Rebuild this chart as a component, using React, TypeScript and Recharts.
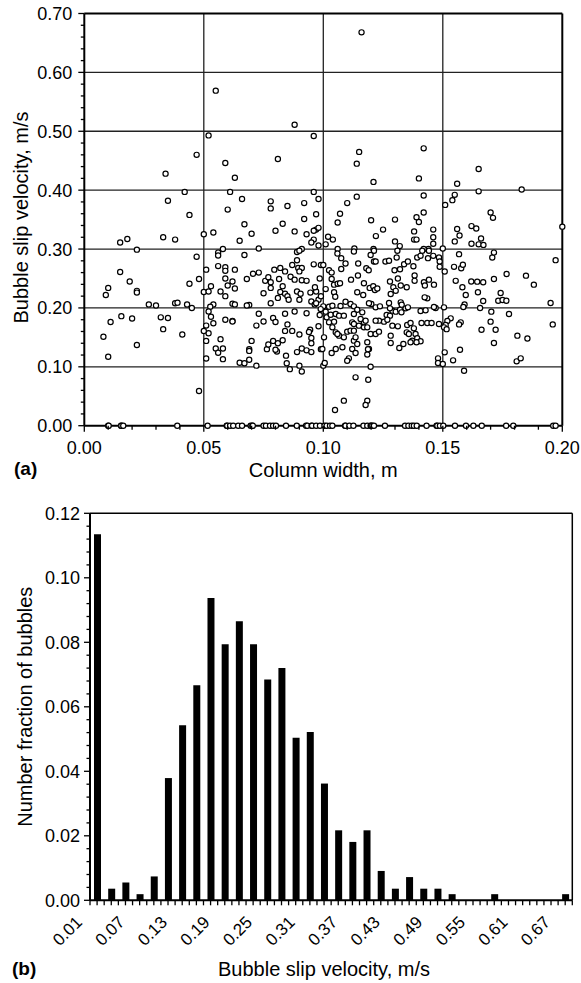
import React from "react";
import {
  ScatterChart,
  Scatter,
  BarChart,
  Bar,
  XAxis,
  YAxis,
  CartesianGrid,
  ReferenceLine,
} from "recharts";

const FONT = '"Liberation Sans", Arial, Helvetica, sans-serif';

// ---------- (a) slip velocity vs column width ----------
// bubbles that sit on the zero line (only the width is read)
const zeroSlipWidths = [
  0.01, 0.0102, 0.0154, 0.0155, 0.0163, 0.0389, 0.0516, 0.0596, 0.0598, 0.061, 0.0623, 0.0644,
  0.066, 0.0696, 0.0703, 0.0705, 0.075, 0.076, 0.0777, 0.079, 0.0802, 0.0844, 0.0889, 0.0928,
  0.0933, 0.0951, 0.0953, 0.097, 0.0986, 0.1005, 0.1014, 0.1028, 0.1038, 0.1091, 0.1093, 0.1109,
  0.1126, 0.1168, 0.1184, 0.1198, 0.12, 0.1205, 0.1212, 0.1258, 0.1342, 0.1356, 0.137, 0.1379,
  0.1391, 0.1432, 0.1474, 0.1477, 0.1488, 0.1502, 0.1551, 0.1597, 0.1628, 0.1663, 0.1765, 0.1795,
  0.1962, 0.1972,
];

// [column width, slip velocity] - points above 0.30 m/s
const upperPoints = [
  [0.055, 0.569], [0.052, 0.493], [0.088, 0.511], [0.047, 0.46], [0.034, 0.428], [0.059, 0.446],
  [0.081, 0.453], [0.063, 0.421], [0.035, 0.382], [0.042, 0.397], [0.061, 0.397], [0.066, 0.385],
  [0.044, 0.358], [0.06, 0.367], [0.078, 0.381], [0.078, 0.369], [0.085, 0.373], [0.067, 0.342],
  [0.083, 0.343], [0.08, 0.331], [0.054, 0.328], [0.07, 0.326], [0.088, 0.33], [0.05, 0.325],
  [0.065, 0.314], [0.033, 0.32], [0.038, 0.316], [0.018, 0.317], [0.015, 0.311], [0.073, 0.301],
  [0.116, 0.668], [0.096, 0.492], [0.115, 0.465], [0.114, 0.445], [0.142, 0.471], [0.14, 0.42],
  [0.121, 0.414], [0.165, 0.436], [0.156, 0.411], [0.165, 0.398], [0.183, 0.401], [0.142, 0.391],
  [0.114, 0.389], [0.096, 0.397], [0.098, 0.385], [0.155, 0.392], [0.154, 0.383], [0.151, 0.375],
  [0.092, 0.378], [0.11, 0.378], [0.097, 0.359], [0.107, 0.36], [0.092, 0.351], [0.142, 0.362],
  [0.139, 0.354], [0.14, 0.346], [0.17, 0.362], [0.171, 0.353], [0.106, 0.345], [0.12, 0.349],
  [0.13, 0.35], [0.097, 0.333], [0.096, 0.331], [0.098, 0.336], [0.093, 0.325], [0.096, 0.316],
  [0.095, 0.311], [0.098, 0.306], [0.102, 0.321], [0.104, 0.316], [0.101, 0.308], [0.122, 0.322],
  [0.125, 0.333], [0.13, 0.313], [0.132, 0.305], [0.138, 0.33], [0.138, 0.316], [0.139, 0.316],
  [0.146, 0.333], [0.146, 0.32], [0.146, 0.309], [0.156, 0.334], [0.157, 0.323], [0.155, 0.313],
  [0.162, 0.339], [0.164, 0.335], [0.166, 0.318], [0.165, 0.308], [0.162, 0.309], [0.167, 0.307],
  [0.2, 0.338], [0.15, 0.301], [0.144, 0.3], [0.142, 0.3], [0.091, 0.3], [0.113, 0.301],
  [0.121, 0.3], [0.106, 0.3],
];

// points between 0.25 and 0.30 m/s
const bandPoints = [
  [0.022, 0.299], [0.047, 0.287], [0.056, 0.294], [0.056, 0.289], [0.058, 0.3], [0.067, 0.29],
  [0.089, 0.295], [0.09, 0.297], [0.089, 0.281], [0.087, 0.273], [0.096, 0.274], [0.051, 0.265],
  [0.056, 0.271], [0.059, 0.269], [0.059, 0.263], [0.063, 0.265], [0.073, 0.26], [0.0795, 0.265],
  [0.082, 0.268], [0.084, 0.262], [0.0895, 0.268], [0.091, 0.268], [0.09, 0.262], [0.099, 0.273],
  [0.1, 0.273], [0.1024, 0.264], [0.1035, 0.26], [0.1075, 0.266], [0.1093, 0.2754], [0.1146, 0.2754],
  [0.118, 0.2675], [0.119, 0.264], [0.1212, 0.2788], [0.1219, 0.2788], [0.126, 0.2788], [0.1275, 0.28],
  [0.1307, 0.2856], [0.1298, 0.264], [0.1321, 0.2658], [0.1338, 0.2743], [0.1354, 0.2788],
  [0.1377, 0.2709], [0.1393, 0.2856], [0.1407, 0.2884], [0.1438, 0.2845], [0.146, 0.2884],
  [0.1484, 0.2856], [0.1487, 0.2788], [0.1487, 0.2698], [0.1508, 0.2618], [0.1547, 0.2698],
  [0.1577, 0.2675], [0.1584, 0.2732], [0.1568, 0.2913], [0.1707, 0.2856], [0.1714, 0.294],
  [0.1972, 0.2811], [0.1128, 0.2958], [0.1059, 0.2924], [0.1075, 0.2845], [0.1212, 0.297],
  [0.1198, 0.29], [0.131, 0.297], [0.1414, 0.297], [0.1442, 0.297],
];

// narrow columns, below 0.30 m/s
const narrowPoints = [
  [0.015, 0.261], [0.019, 0.245], [0.01, 0.234], [0.009, 0.222], [0.022, 0.229], [0.022, 0.226],
  [0.044, 0.241], [0.048, 0.249], [0.027, 0.206], [0.03, 0.204], [0.038, 0.208], [0.039, 0.209],
  [0.043, 0.206], [0.045, 0.2], [0.008, 0.151], [0.01, 0.117], [0.011, 0.176], [0.0155, 0.186],
  [0.02, 0.182], [0.022, 0.137], [0.032, 0.184], [0.035, 0.183], [0.033, 0.164], [0.041, 0.155],
  [0.048, 0.059],
];

// 0.05 - 0.10 m columns, below 0.26 m/s
const midPoints = [
  [0.05, 0.227], [0.052, 0.228], [0.053, 0.237], [0.057, 0.228], [0.059, 0.22], [0.06, 0.238],
  [0.059, 0.25], [0.062, 0.245], [0.063, 0.233], [0.068, 0.249], [0.0706, 0.258], [0.075, 0.225],
  [0.0757, 0.246], [0.077, 0.252], [0.078, 0.2435], [0.078, 0.234], [0.0815, 0.249], [0.083, 0.237],
  [0.081, 0.217], [0.082, 0.227], [0.084, 0.224], [0.085, 0.22], [0.0855, 0.214], [0.0863, 0.253],
  [0.088, 0.248], [0.091, 0.247], [0.093, 0.246], [0.089, 0.228], [0.0905, 0.224], [0.09, 0.214],
  [0.0946, 0.226], [0.095, 0.211], [0.098, 0.214], [0.0964, 0.206], [0.097, 0.208], [0.0985, 0.25],
  [0.078, 0.208], [0.069, 0.205], [0.068, 0.204], [0.062, 0.207], [0.063, 0.206], [0.054, 0.206],
  [0.0527, 0.202], [0.052, 0.194], [0.053, 0.185], [0.054, 0.174], [0.051, 0.17], [0.052, 0.157],
  [0.05, 0.161], [0.051, 0.144], [0.051, 0.114], [0.059, 0.18], [0.062, 0.178], [0.062, 0.177],
  [0.057, 0.147], [0.055, 0.131], [0.056, 0.124], [0.058, 0.131], [0.058, 0.113], [0.065, 0.107],
  [0.067, 0.106], [0.069, 0.112], [0.072, 0.102], [0.069, 0.13], [0.069, 0.127], [0.07, 0.144],
  [0.072, 0.17], [0.073, 0.19], [0.075, 0.177], [0.0764, 0.13], [0.077, 0.138], [0.079, 0.144],
  [0.0806, 0.126], [0.08, 0.129], [0.081, 0.14], [0.079, 0.183], [0.08, 0.176], [0.083, 0.145],
  [0.084, 0.19], [0.084, 0.161], [0.085, 0.172], [0.0844, 0.119], [0.0847, 0.106], [0.086, 0.096],
  [0.088, 0.194], [0.087, 0.161], [0.09, 0.155], [0.089, 0.125], [0.091, 0.131], [0.09, 0.102],
  [0.091, 0.092], [0.093, 0.128], [0.095, 0.125], [0.0945, 0.163], [0.095, 0.149], [0.094, 0.159],
  [0.095, 0.14], [0.093, 0.191], [0.0985, 0.188], [0.098, 0.169], [0.099, 0.13], [0.1, 0.102],
  [0.097, 0.228], [0.099, 0.22], [0.0965, 0.235],
];

// 0.10 - 0.20 m columns, below 0.26 m/s
const widePoints = [
  [0.1035, 0.249], [0.1045, 0.2395], [0.106, 0.241], [0.107, 0.242], [0.101, 0.232], [0.1045, 0.2265],
  [0.105, 0.219], [0.1116, 0.248], [0.1145, 0.255], [0.117, 0.242], [0.1142, 0.2265], [0.1167, 0.222],
  [0.1194, 0.234], [0.1209, 0.2367], [0.1216, 0.2305], [0.1226, 0.233], [0.1201, 0.2067], [0.1191, 0.208],
  [0.1279, 0.245], [0.1312, 0.25], [0.1282, 0.2237], [0.1293, 0.235], [0.1303, 0.229], [0.1324, 0.238],
  [0.1349, 0.235], [0.1382, 0.255], [0.1382, 0.246], [0.1421, 0.2435], [0.1442, 0.248], [0.1463, 0.2395],
  [0.1425, 0.238], [0.1554, 0.246], [0.1582, 0.235], [0.1596, 0.222], [0.1619, 0.245], [0.1644, 0.2446],
  [0.1669, 0.2435], [0.1714, 0.249], [0.1647, 0.2265], [0.1669, 0.2118], [0.1767, 0.2576], [0.1848, 0.2548],
  [0.1881, 0.2395], [0.1742, 0.2254], [0.1732, 0.2123], [0.175, 0.2135], [0.1766, 0.2123], [0.1951, 0.2084],
  [0.1591, 0.206], [0.1586, 0.2016], [0.1656, 0.2], [0.1703, 0.1937], [0.1777, 0.1897], [0.17, 0.1767],
  [0.1721, 0.163], [0.1662, 0.163], [0.1575, 0.1755], [0.1568, 0.172], [0.1714, 0.1404], [0.1812, 0.1529],
  [0.1854, 0.148], [0.1572, 0.129], [0.196, 0.172], [0.1533, 0.1823], [0.1519, 0.178], [0.1512, 0.171],
  [0.1484, 0.1727], [0.1505, 0.167], [0.1516, 0.164], [0.1505, 0.201], [0.147, 0.2], [0.1463, 0.2016],
  [0.1508, 0.1246], [0.148, 0.1144], [0.148, 0.1065], [0.15, 0.1048], [0.1543, 0.111], [0.1589, 0.0934],
  [0.1809, 0.1093], [0.1826, 0.1144],
  [0.1, 0.2027], [0.1024, 0.202], [0.1038, 0.2038], [0.0989, 0.198], [0.101, 0.1937], [0.1014, 0.184],
  [0.1031, 0.1885], [0.1052, 0.1897], [0.1066, 0.1869], [0.1086, 0.1869], [0.1072, 0.2033], [0.1093, 0.2106],
  [0.1114, 0.2067], [0.1128, 0.2027], [0.1142, 0.197], [0.1163, 0.1925], [0.1128, 0.1897], [0.1024, 0.1755],
  [0.1045, 0.1767], [0.1038, 0.167], [0.1052, 0.1585], [0.1066, 0.1529], [0.1059, 0.1557], [0.1086, 0.15],
  [0.11, 0.1597], [0.1114, 0.1614], [0.1128, 0.1614], [0.1121, 0.1755], [0.1128, 0.1727], [0.1149, 0.1699],
  [0.117, 0.167], [0.117, 0.1755], [0.1156, 0.1812], [0.1177, 0.1784], [0.1128, 0.1444], [0.1135, 0.15],
  [0.1142, 0.1387], [0.1121, 0.1302], [0.1135, 0.1234], [0.1107, 0.1144], [0.11, 0.1104], [0.1003, 0.15],
  [0.0996, 0.1302], [0.1006, 0.1065], [0.1035, 0.1234], [0.1052, 0.1302], [0.108, 0.1331], [0.1184, 0.167],
  [0.1198, 0.1557], [0.1219, 0.1557], [0.1233, 0.1597], [0.1184, 0.1416], [0.1191, 0.1302], [0.1198, 0.1002],
  [0.1219, 0.201], [0.1237, 0.2027], [0.1254, 0.1767], [0.1233, 0.1784], [0.1219, 0.1784], [0.1265, 0.188],
  [0.1279, 0.1869], [0.1268, 0.18], [0.1289, 0.1954], [0.1303, 0.1937], [0.1321, 0.197], [0.1327, 0.1925],
  [0.1344, 0.1993], [0.1354, 0.201], [0.1279, 0.1993], [0.1289, 0.1699], [0.1312, 0.1687], [0.1282, 0.1529],
  [0.1282, 0.1404], [0.1318, 0.1319], [0.1335, 0.1387], [0.1351, 0.171], [0.1365, 0.1744], [0.1349, 0.1585],
  [0.1358, 0.1557], [0.1379, 0.1653], [0.1386, 0.1557], [0.1393, 0.1484], [0.1372, 0.1444], [0.1365, 0.1416],
  [0.1407, 0.1433], [0.139, 0.1416], [0.1407, 0.1948], [0.1428, 0.1959], [0.1435, 0.2163], [0.1424, 0.218],
  [0.1411, 0.1744], [0.1435, 0.1744], [0.1453, 0.1744], [0.1324, 0.2095], [0.1328, 0.2056], [0.1275, 0.2084],
  [0.1184, 0.121], [0.1187, 0.13], [0.1135, 0.0821], [0.1188, 0.0781], [0.1086, 0.0425], [0.1184, 0.0425],
  [0.1177, 0.0351], [0.1049, 0.0266],
];

const scatterData = [
  ...zeroSlipWidths.map((w) => [w, 0]),
  ...upperPoints,
  ...bandPoints,
  ...narrowPoints,
  ...midPoints,
  ...widePoints,
].map(([width, slip]) => ({ width, slip }));

const widthTicks = Array.from({ length: 21 }, (_, i) => i / 100);
const slipTicks = Array.from({ length: 36 }, (_, i) => (i * 2) / 100);
const widthGrid = [0.05, 0.1, 0.15];
const slipGrid = [0.1, 0.2, 0.3, 0.4, 0.5, 0.6];

// ---------- (b) histogram ----------
const velocityBins = [
  0.01, 0.03, 0.05, 0.07, 0.09, 0.11, 0.13, 0.15, 0.17, 0.19, 0.21, 0.23, 0.25, 0.27, 0.29, 0.31, 0.33,
  0.35, 0.37, 0.39, 0.41, 0.43, 0.45, 0.47, 0.49, 0.51, 0.53, 0.55, 0.57, 0.59, 0.61, 0.63, 0.65, 0.67,
];
const bubbleFractions = [
  0.1135, 0.0036, 0.0055, 0.0019, 0.0074, 0.0379, 0.0543, 0.0667, 0.0937, 0.0794, 0.0865, 0.0794,
  0.0685, 0.072, 0.0504, 0.0522, 0.0362, 0.0217, 0.0181, 0.0217, 0.0091, 0.0036, 0.0072, 0.0036,
  0.0036, 0.0019, 0, 0, 0.0019, 0, 0, 0, 0, 0.0019,
];
const velocityLabels = ["0.01", "0.07", "0.13", "0.19", "0.25", "0.31", "0.37", "0.43", "0.49", "0.55", "0.61", "0.67"];

const histData = velocityBins.map((v, i) => ({ velocity: v, fraction: bubbleFractions[i] }));
const velocityTicks = Array.from({ length: 69 }, (_, i) => i / 100);
const fractionTicks = Array.from({ length: 31 }, (_, i) => (i * 4) / 1000);

function WidthTick({ x, y, payload }: any) {
  const major = Math.round(payload.value * 100) % 5 === 0;
  return (
    <g>
      <line x1={x} y1={y} x2={x} y2={y + (major ? 6 : 4)} stroke="#000" strokeWidth={1.3} />
      {major && (
        <text x={x} y={y + 28} textAnchor="middle" fontSize={18} fontFamily={FONT} fill="#000">
          {payload.value.toFixed(2)}
        </text>
      )}
    </g>
  );
}

function SlipTick({ x, y, payload }: any) {
  const major = Math.round(payload.value * 100) % 10 === 0;
  return (
    <g>
      <line x1={x} y1={y} x2={x - (major ? 6 : 3.5)} y2={y} stroke="#000" strokeWidth={1.3} />
      {major && (
        <text x={x - 12} y={y + 6.5} textAnchor="end" fontSize={18} fontFamily={FONT} fill="#000">
          {payload.value.toFixed(2)}
        </text>
      )}
    </g>
  );
}

function VelocityTick({ x, y, payload }: any) {
  const label = payload.value.toFixed(2);
  const show = velocityLabels.includes(label);
  const lx = x - 14;
  const ly = y + 23;
  return (
    <g>
      <line x1={x} y1={y} x2={x} y2={y + 5} stroke="#000" strokeWidth={1.3} />
      {show && (
        <text x={lx} y={ly} transform={`rotate(-45 ${lx} ${ly})`} textAnchor="end" fontSize={17} fontFamily={FONT} fill="#000">
          {label}
        </text>
      )}
    </g>
  );
}

function FractionTick({ x, y, payload }: any) {
  const major = Math.round(payload.value * 1000) % 20 === 0;
  return (
    <g>
      <line x1={x} y1={y} x2={x - (major ? 6 : 3.5)} y2={y} stroke="#000" strokeWidth={1.3} />
      {major && (
        <text x={x - 10} y={y + 6.5} textAnchor="end" fontSize={18} fontFamily={FONT} fill="#000">
          {payload.value.toFixed(2)}
        </text>
      )}
    </g>
  );
}

const dot = (p: any) => <circle cx={p.cx} cy={p.cy} r={2.6} fill="#fff" stroke="#000" strokeWidth={1.2} />;

export default function App() {
  return (
    <div style={{ position: "absolute", left: 0, top: 0, width: 581, height: 983, background: "#fff" }}>
      <div style={{ position: "absolute", left: 0, top: 0 }}>
        <ScatterChart width={581} height={490} margin={{ top: 13.5, right: 18.7, bottom: 0, left: 0 }}>
          <CartesianGrid horizontalValues={slipGrid} verticalValues={widthGrid} stroke="#222" strokeWidth={1.3} />
          <XAxis
            type="number"
            dataKey="width"
            domain={[0, 0.2]}
            ticks={widthTicks}
            interval={0}
            height={64.3}
            tickSize={0}
            tickMargin={0}
            tickLine={false}
            axisLine={{ stroke: "#000", strokeWidth: 2 }}
            tick={(p: any) => <WidthTick {...p} />}
          />
          <YAxis
            type="number"
            dataKey="slip"
            domain={[0, 0.7]}
            ticks={slipTicks}
            interval={0}
            width={84.3}
            tickSize={0}
            tickMargin={0}
            tickLine={false}
            axisLine={{ stroke: "#000", strokeWidth: 2 }}
            tick={(p: any) => <SlipTick {...p} />}
          />
          <ReferenceLine y={0.7} stroke="#000" strokeWidth={2} />
          <ReferenceLine x={0.2} stroke="#000" strokeWidth={2} />
          <Scatter data={scatterData} shape={dot} isAnimationActive={false} />
        </ScatterChart>
      </div>
      <div style={{ position: "absolute", left: 0, top: 490 }}>
        <BarChart width={581} height={493} data={histData} margin={{ top: 23.3, right: 8.7, bottom: 0, left: 0 }}>
          <XAxis
            type="number"
            dataKey="velocity"
            domain={[0, 0.68]}
            ticks={velocityTicks}
            interval={0}
            height={82.7}
            tickSize={0}
            tickMargin={0}
            tickLine={false}
            axisLine={{ stroke: "#000", strokeWidth: 2 }}
            tick={(p: any) => <VelocityTick {...p} />}
          />
          <YAxis
            type="number"
            domain={[0, 0.12]}
            ticks={fractionTicks}
            interval={0}
            width={90}
            tickSize={0}
            tickMargin={0}
            tickLine={false}
            axisLine={{ stroke: "#000", strokeWidth: 2 }}
            tick={(p: any) => <FractionTick {...p} />}
          />
          <ReferenceLine y={0.12} stroke="#000" strokeWidth={1.5} />
          <ReferenceLine x={0.68} stroke="#000" strokeWidth={1.5} />
          <Bar dataKey="fraction" fill="#000" barSize={7} isAnimationActive={false} />
        </BarChart>
      </div>
      <svg width={581} height={983} style={{ position: "absolute", left: 0, top: 0, pointerEvents: "none" }}>
        <g fontFamily={FONT} fill="#000">
          <text x={323.3} y={477} textAnchor="middle" fontSize={20}>Column width, m</text>
          <text x={28} y={217.5} textAnchor="middle" fontSize={20} transform="rotate(-90 28 217.5)">
            Bubble slip velocity, m/s
          </text>
          <text x={14} y={475} fontSize={19} fontWeight="bold">(a)</text>
          <text x={324} y={976} textAnchor="middle" fontSize={20}>Bubble slip velocity, m/s</text>
          <text x={32} y={706.7} textAnchor="middle" fontSize={20} transform="rotate(-90 32 706.7)">
            Number fraction of bubbles
          </text>
          <text x={12} y={975} fontSize={19} fontWeight="bold">(b)</text>
        </g>
      </svg>
    </div>
  );
}
